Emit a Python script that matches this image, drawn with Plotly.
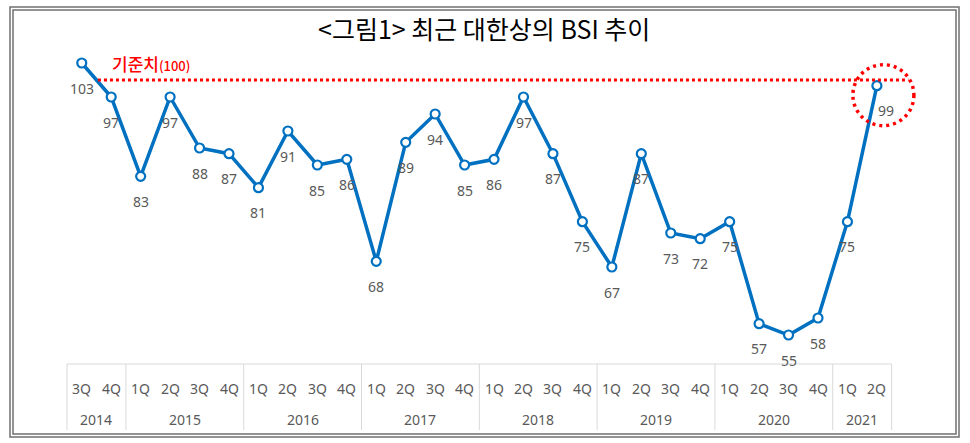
import plotly.graph_objects as go

# ---- data ----
quarters = ["3Q", "4Q",
            "1Q", "2Q", "3Q", "4Q",
            "1Q", "2Q", "3Q", "4Q",
            "1Q", "2Q", "3Q", "4Q",
            "1Q", "2Q", "3Q", "4Q",
            "1Q", "2Q", "3Q", "4Q",
            "1Q", "2Q", "3Q", "4Q",
            "1Q", "2Q"]
years = ["2014", "2014",
         "2015", "2015", "2015", "2015",
         "2016", "2016", "2016", "2016",
         "2017", "2017", "2017", "2017",
         "2018", "2018", "2018", "2018",
         "2019", "2019", "2019", "2019",
         "2020", "2020", "2020", "2020",
         "2021", "2021"]
bsi = [103, 97,
       83, 97, 88, 87,
       81, 91, 85, 86,
       68, 89, 94, 85,
       86, 97, 87, 75,
       67, 87, 73, 72,
       75, 57, 55, 58,
       75, 99]
baseline = 100
baseline_label = "기준치"
title = "&lt;그림1&gt; 최근 대한상의 BSI 추이"

# ---- layout geometry (pixels) ----
W, H = 970, 443
X0_PX, DX_PX = 81.75, 29.45        # pixel of first category, spacing
Y_REF_V, Y_REF_PX, PX_PER_UNIT = 103, 63, 5.667

def py(p):  # pixel y -> paper y
    return 1 - p / H

def pxp(p):  # pixel x -> paper x
    return p / W

x_range = [-X0_PX / DX_PX, (W - X0_PX) / DX_PX]
y_top = Y_REF_V + Y_REF_PX / PX_PER_UNIT
y_range = [y_top - H / PX_PER_UNIT, y_top]

idx = list(range(len(bsi)))
blue = "#0070C0"
gray_txt = "#595959"
grid = "#D9D9D9"

fig = go.Figure()
fig.add_trace(go.Scatter(
    x=idx, y=bsi, mode="lines+markers",
    line=dict(color=blue, width=3.5),
    marker=dict(symbol="circle", size=9, color="white",
                line=dict(color=blue, width=2.2)),
    hoverinfo="skip", showlegend=False,
))

shapes = []
annotations = []

# data labels
for i, v in enumerate(bsi):
    annotations.append(dict(
        x=i, y=v, xref="x", yref="y", text=str(v), showarrow=False,
        yshift=-25, xshift=9 if i == len(bsi) - 1 else 0,
        font=dict(family="Noto Sans", size=14, color=gray_txt),
    ))

# baseline dotted line
shapes.append(dict(type="line", xref="x", yref="y",
                   x0=0.55, x1=len(bsi) + 0.07, y0=baseline, y1=baseline,
                   line=dict(color="#FF0000", width=3, dash="3px,3px")))
annotations.append(dict(
    x=pxp(110), y=py(63), xref="paper", yref="paper",
    xanchor="left", yanchor="middle", showarrow=False,
    text=baseline_label + "<span style='font-size:13px'>(" + str(baseline) + ")</span>",
    font=dict(family="Noto Sans CJK KR", size=17, color="#FF0000", weight=500),
))

# highlight circle around last point
shapes.append(dict(type="circle", xref="x", yref="y",
                   xsizemode="pixel", ysizemode="pixel",
                   xanchor=len(bsi) - 1, yanchor=bsi[-1],
                   x0=-24, x1=37, y0=-40, y1=21,
                   line=dict(color="#FF0000", width=3.5, dash="3px,4px")))

# category table
table_top, q_y, yr_y, table_bot = 364, 388, 419, 430
shapes.append(dict(type="line", xref="x", yref="paper",
                   x0=-0.5, x1=len(bsi) - 0.5, y0=py(table_top), y1=py(table_top),
                   line=dict(color=grid, width=1)))
bounds = [-0.5]
for i in range(1, len(years)):
    if years[i] != years[i - 1]:
        bounds.append(i - 0.5)
bounds.append(len(years) - 0.5)
for b in bounds:
    shapes.append(dict(type="line", xref="x", yref="paper",
                       x0=b, x1=b, y0=py(table_top), y1=py(table_bot),
                       line=dict(color=grid, width=1)))
for i, q in enumerate(quarters):
    annotations.append(dict(x=i, y=py(q_y), xref="x", yref="paper", text=q,
                            showarrow=False, yanchor="middle",
                            font=dict(family="Noto Sans", size=14, color=gray_txt)))
for a, b in zip(bounds[:-1], bounds[1:]):
    yr = years[int(a + 0.5)]
    annotations.append(dict(x=(a + b) / 2, y=py(yr_y), xref="x", yref="paper", text=yr,
                            showarrow=False, yanchor="middle",
                            font=dict(family="Noto Sans", size=14, color=gray_txt)))

# title
annotations.append(dict(x=pxp(483.5), y=py(28), xref="paper", yref="paper",
                        text=title, showarrow=False, xanchor="center", yanchor="middle",
                        font=dict(family="Noto Sans CJK KR", size=25, color="#000000")))

# double frame
for (l, t, r, b) in [(10, 7, 959, 437), (13, 10, 956, 434)]:
    shapes.append(dict(type="rect", xref="paper", yref="paper",
                       x0=pxp(l), x1=pxp(r), y0=py(b), y1=py(t),
                       line=dict(color="#707070", width=1.5)))

fig.update_layout(
    width=W, height=H, margin=dict(l=0, r=0, t=0, b=0),
    paper_bgcolor="white", plot_bgcolor="white",
    xaxis=dict(range=x_range, visible=False, fixedrange=True),
    yaxis=dict(range=y_range, visible=False, fixedrange=True),
    shapes=shapes, annotations=annotations,
)
fig.write_html("out.html")
